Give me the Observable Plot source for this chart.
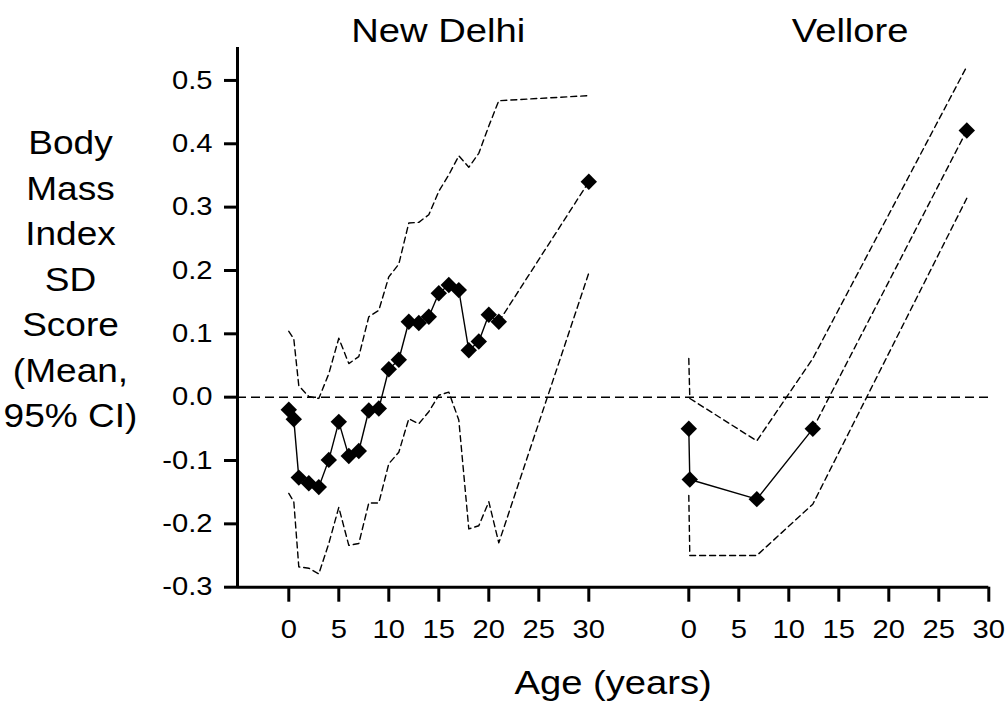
<!DOCTYPE html>
<html>
<head>
<meta charset="utf-8">
<script src="https://cdn.jsdelivr.net/npm/d3@7"></script>
<script src="https://cdn.jsdelivr.net/npm/@observablehq/plot@0.6"></script>
<style>
  html, body { margin: 0; padding: 0; background: #fff; }
</style>
</head>
<body>
<div id="chart"></div>
<script>
// ---- Data ----
const panels = ["New Delhi", "Vellore"];

const delhiAge   = [0, 0.5, 1, 2, 3, 4, 5, 6, 7, 8, 9, 10, 11, 12, 13, 14, 15, 16, 17, 18, 19, 20, 21, 30];
const delhiMean  = [-0.020, -0.035, -0.127, -0.136, -0.142, -0.099, -0.039, -0.093, -0.085, -0.021, -0.018, 0.044, 0.059, 0.119, 0.117, 0.127, 0.164, 0.177, 0.169, 0.074, 0.088, 0.130, 0.119, 0.340];
const delhiUpper = [0.104, 0.092, 0.018, 0.001, -0.002, 0.037, 0.093, 0.053, 0.064, 0.127, 0.137, 0.190, 0.210, 0.275, 0.276, 0.288, 0.325, 0.351, 0.381, 0.363, 0.385, 0.428, 0.468, 0.476];
const delhiLower = [-0.152, -0.165, -0.268, -0.270, -0.279, -0.231, -0.174, -0.234, -0.231, -0.167, -0.167, -0.105, -0.087, -0.034, -0.042, -0.023, 0.003, 0.008, -0.036, -0.208, -0.203, -0.165, -0.230, 0.196];
const delhiLastObservedAge = 21;

const velloreAge   = [0, 0.1, 6.8, 12.4, 27.8];
const velloreMean  = [-0.050, -0.130, -0.161, -0.050, 0.421];
const velloreUpper = [0.061, -0.002, -0.069, 0.061, 0.522];
const velloreLower = [-0.155, -0.250, -0.250, -0.169, 0.314];
const velloreLastObservedAge = 12.4;

const xTickLabels = [0, 5, 10, 15, 20, 25, 30];
const yTicks = [-0.3, -0.2, -0.1, 0.0, 0.1, 0.2, 0.3, 0.4, 0.5];
const yLabel = "Body\nMass\nIndex\nSD\nScore\n(Mean,\n95% CI)";
const xLabel = "Age (years)";

// ---- Layout: both panels share one x scale; Vellore is shifted right ----
const panelOffset = 40;
const rows = [];
delhiAge.forEach((a, i) => rows.push({panel: panels[0], age: a, x: a, mean: delhiMean[i], upper: delhiUpper[i], lower: delhiLower[i], last: delhiLastObservedAge}));
velloreAge.forEach((a, i) => rows.push({panel: panels[1], age: a, x: a + panelOffset, mean: velloreMean[i], upper: velloreUpper[i], lower: velloreLower[i], last: velloreLastObservedAge}));
const observed = rows.filter(d => d.age <= d.last);
const projected = rows.filter(d => d.age >= d.last);

const xTicks = [...xTickLabels, ...xTickLabels.map(t => t + panelOffset)];
const font = "'Liberation Sans', Arial, Helvetica, sans-serif";

const chart = Plot.plot({
  width: 1007,
  height: 704,
  marginLeft: 237,
  marginRight: 18.7,
  marginTop: 47,
  marginBottom: 117.3,
  style: {fontFamily: font, background: "white", color: "black", overflow: "visible"},
  x: {domain: [-5.13, 70]},
  y: {domain: [-0.3, 0.552]},
  marks: [
    Plot.ruleY([0], {stroke: "black", strokeWidth: 1.5, strokeDasharray: "9,5"}),
    Plot.line(rows, {x: "x", y: "upper", z: "panel", stroke: "black", strokeWidth: 1.4, strokeDasharray: "6,4"}),
    Plot.line(rows, {x: "x", y: "lower", z: "panel", stroke: "black", strokeWidth: 1.4, strokeDasharray: "6,4"}),
    Plot.line(projected, {x: "x", y: "mean", z: "panel", stroke: "black", strokeWidth: 1.4, strokeDasharray: "6,4"}),
    Plot.line(observed, {x: "x", y: "mean", z: "panel", stroke: "black", strokeWidth: 1.4}),
    Plot.dot(rows, {x: "x", y: "mean", symbol: "diamond2", r: 7.4, fill: "black", stroke: "none"}),
    Plot.axisX({ticks: xTicks, tickFormat: d => String(d >= panelOffset ? d - panelOffset : d), tickSize: 15, tickPadding: 18, fontSize: 25.6, strokeWidth: 3, label: null}),
    Plot.axisY({ticks: yTicks, tickFormat: d => d.toFixed(1), tickSize: 13, tickPadding: 12, fontSize: 25.6, strokeWidth: 3, label: null}),
    Plot.ruleX([-5.13], {stroke: "black", strokeWidth: 3}),
    Plot.ruleY([-0.3], {stroke: "black", strokeWidth: 3}),
    Plot.text([panels[0]], {text: d => d, frameAnchor: "top", dx: -175, dy: -16, fontSize: 33.5, lineAnchor: "middle", fill: "black"}),
    Plot.text([panels[1]], {text: d => d, frameAnchor: "top", dx: 237, dy: -16, fontSize: 33.5, lineAnchor: "middle", fill: "black"}),
    Plot.text([yLabel], {text: d => d, frameAnchor: "left", dx: -167, dy: -41, textAnchor: "middle", lineAnchor: "middle", lineHeight: 1.4, fontSize: 32.5, fill: "black"}),
    Plot.text([xLabel], {text: d => d, frameAnchor: "bottom", dx: 0, dy: 96, fontSize: 33.5, lineAnchor: "middle", fill: "black"})
  ]
});

// The reference's lettering is slightly wide; stretch each text about its anchor.
for (const t of chart.querySelectorAll("text")) {
  const tr = t.getAttribute("transform");
  if (tr) t.setAttribute("transform", tr + " scale(1.14,1)");
}

document.getElementById("chart").appendChild(chart);
</script>
</body>
</html>
